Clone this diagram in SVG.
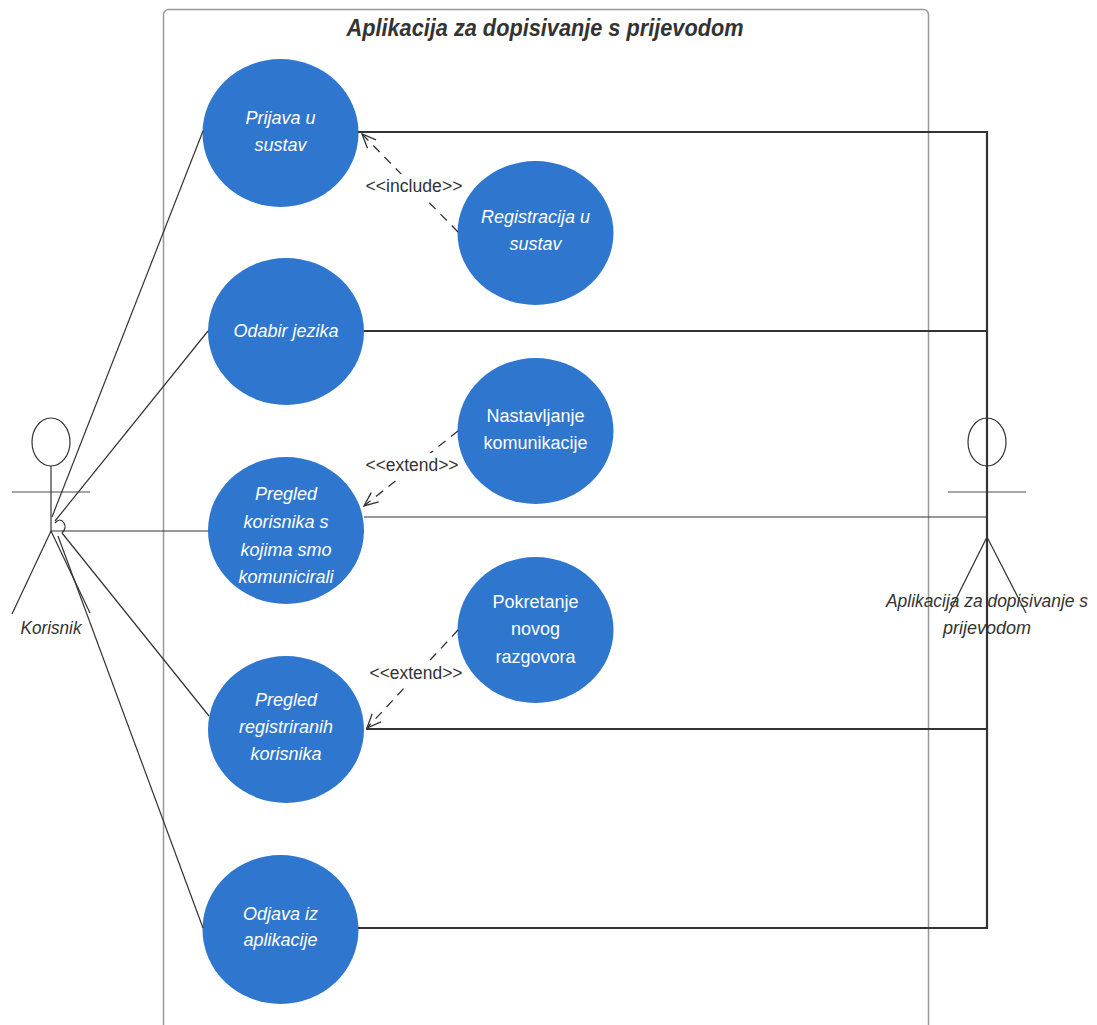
<svg xmlns="http://www.w3.org/2000/svg" width="1097" height="1025" viewBox="0 0 1097 1025">
<style>
.uc{fill:#2F77CE;}
.ut{fill:#fff;font-family:"Liberation Sans",Arial,sans-serif;font-size:18px;text-anchor:middle;}
.it{font-style:italic;}
.lbl{fill:#333;font-family:"Liberation Sans",Arial,sans-serif;font-size:18px;text-anchor:middle;}
.act{fill:none;stroke:#333;stroke-width:1.2;}
.arm{stroke:#888;stroke-width:1.5;}
.assoc{stroke:#333;stroke-width:1.2;fill:none;}
.bold{stroke:#333;stroke-width:2.2;fill:none;}
.dash{stroke:#333;stroke-width:1.3;fill:none;stroke-dasharray:9,7;}
</style>
<defs>
<marker id="open" markerWidth="18" markerHeight="18" refX="15" refY="8" orient="auto" markerUnits="userSpaceOnUse">
<path d="M1,2 L15,8 L1,14" fill="none" stroke="#333" stroke-width="1.3"/>
</marker>
</defs>
<rect id="system" x="163.5" y="9.5" width="765" height="1030" rx="5" fill="none" stroke="#999" stroke-width="1.5"/>
<text x="545" y="36" font-family="Liberation Sans,Arial,sans-serif" font-size="23" font-weight="bold" font-style="italic" fill="#333" text-anchor="middle" textLength="397" lengthAdjust="spacingAndGlyphs">Aplikacija za dopisivanje s prijevodom</text>

<g id="actor-korisnik">
<ellipse class="act" cx="51" cy="442" rx="19" ry="24"/>
<line class="arm" x1="12" y1="492" x2="90" y2="492"/>
<line class="act" x1="51" y1="466" x2="51" y2="531"/>
<line class="act" x1="51" y1="531" x2="12" y2="614"/>
<line class="act" x1="51" y1="531" x2="90" y2="613"/>
<text x="51" y="634" font-family="Liberation Sans,Arial,sans-serif" font-size="18" font-style="italic" fill="#333" text-anchor="middle" textLength="61" lengthAdjust="spacingAndGlyphs">Korisnik</text>
</g>

<g id="actor-aplikacija">
<ellipse class="act" cx="987" cy="442" rx="19" ry="24"/>
<line class="arm" x1="948" y1="492" x2="1026" y2="492"/>
<line class="act" x1="987" y1="537" x2="949" y2="613"/>
<line class="act" x1="987" y1="537" x2="1026" y2="613"/>
<text font-family="Liberation Sans,Arial,sans-serif" font-size="18" font-style="italic" fill="#333" text-anchor="middle"><tspan x="987" y="607" textLength="202" lengthAdjust="spacingAndGlyphs">Aplikacija za dopisivanje s</tspan><tspan x="987" y="634">prijevodom</tspan></text>
</g>

<g id="uc-prijava">
<ellipse class="uc" cx="280.5" cy="133" rx="78" ry="74"/>
<text class="ut it"><tspan x="280.5" y="124">Prijava u</tspan><tspan x="280.5" y="151">sustav</tspan></text>
</g>
<g id="uc-registracija">
<ellipse class="uc" cx="535.5" cy="233" rx="78" ry="72"/>
<text class="ut it"><tspan x="535.5" y="223">Registracija u</tspan><tspan x="535.5" y="250">sustav</tspan></text>
</g>
<g id="uc-odabir">
<ellipse class="uc" cx="286" cy="331.5" rx="78" ry="73.5"/>
<text class="ut it" x="286" y="337">Odabir jezika</text>
</g>
<g id="uc-nastavljanje">
<ellipse class="uc" cx="535.5" cy="431" rx="78" ry="73"/>
<text class="ut"><tspan x="535.5" y="422">Nastavljanje</tspan><tspan x="535.5" y="449">komunikacije</tspan></text>
</g>
<g id="uc-pregled-kom">
<ellipse class="uc" cx="286" cy="530.5" rx="78" ry="73.5"/>
<text class="ut it"><tspan x="286" y="500">Pregled</tspan><tspan x="286" y="528">korisnika s</tspan><tspan x="286" y="556">kojima smo</tspan><tspan x="286" y="583">komunicirali</tspan></text>
</g>
<g id="uc-pokretanje">
<ellipse class="uc" cx="535.5" cy="630" rx="78" ry="73"/>
<text class="ut"><tspan x="535.5" y="608">Pokretanje</tspan><tspan x="535.5" y="635">novog</tspan><tspan x="535.5" y="663">razgovora</tspan></text>
</g>
<g id="uc-pregled-reg">
<ellipse class="uc" cx="286" cy="729.5" rx="78" ry="73.5"/>
<text class="ut it"><tspan x="286" y="706">Pregled</tspan><tspan x="286" y="733">registriranih</tspan><tspan x="286" y="760">korisnika</tspan></text>
</g>
<g id="uc-odjava">
<ellipse class="uc" cx="280.5" cy="929.5" rx="78" ry="74.5"/>
<text class="ut it"><tspan x="280.5" y="920">Odjava iz</tspan><tspan x="280.5" y="946">aplikacije</tspan></text>
</g>

<g id="connectors">
<line class="assoc" x1="52" y1="517" x2="203" y2="131"/>
<line class="assoc" x1="55" y1="521" x2="208" y2="331"/>
<line class="assoc" x1="51" y1="531" x2="208" y2="531"/>
<line class="assoc" x1="62" y1="533" x2="209" y2="716"/>
<line class="assoc" x1="58" y1="536" x2="203" y2="928"/>
<path class="assoc" d="M55,523 q5,-6 9,0 q3,5 -2,10"/>
<polyline class="bold" points="358,132 987,132 987,928 358,928"/>
<line class="bold" x1="364" y1="331" x2="987" y2="331"/>
<line class="assoc" x1="364" y1="517" x2="987" y2="517"/>
<line class="bold" x1="366" y1="729" x2="987" y2="729"/>
<line class="dash" x1="458" y1="232" x2="362" y2="134" marker-end="url(#open)"/>
<line class="dash" x1="458" y1="431" x2="364" y2="506" marker-end="url(#open)"/>
<line class="dash" x1="458" y1="630" x2="367" y2="728" marker-end="url(#open)"/>
<rect x="364" y="174" width="100" height="24" fill="#fff"/>
<text class="lbl" x="414" y="192" textLength="97" lengthAdjust="spacingAndGlyphs">&lt;&lt;include&gt;&gt;</text>
<rect x="364" y="453" width="96" height="24" fill="#fff"/>
<text class="lbl" x="412" y="471" textLength="93" lengthAdjust="spacingAndGlyphs">&lt;&lt;extend&gt;&gt;</text>
<rect x="368" y="661" width="96" height="24" fill="#fff"/>
<text class="lbl" x="416" y="679" textLength="93" lengthAdjust="spacingAndGlyphs">&lt;&lt;extend&gt;&gt;</text>
</g>
</svg>
